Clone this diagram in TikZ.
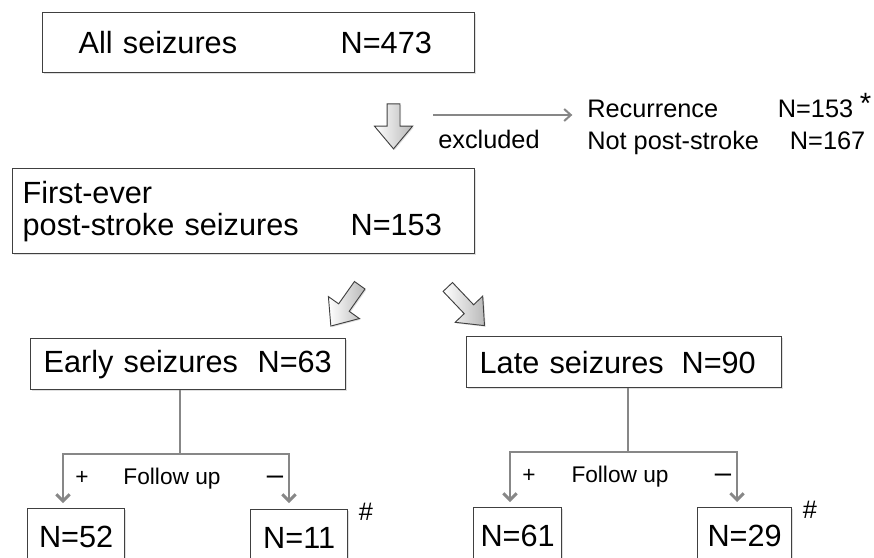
\documentclass[tikz,border=0pt]{standalone}
\usepackage{fontspec}
\setmainfont{Liberation Sans}
\usetikzlibrary{shapes.arrows,shadows,arrows.meta}

\definecolor{framegray}{RGB}{64,64,64}
\definecolor{linkgray}{RGB}{135,135,135}

\tikzset{
  box/.style={draw=framegray, line width=1pt, fill=white, anchor=north west,
    inner xsep=0pt, inner ysep=0pt, align=left,
    drop shadow={shadow xshift=0.9pt, shadow yshift=-0.9pt, opacity=0.25}},
  numbox/.style={box, align=center, font=\fontsize{23}{24}\selectfont},
  bigtext/.style={font=\fontsize{23}{24}\selectfont},
  midtext/.style={font=\fontsize{19}{24}\selectfont},
  fuptext/.style={font=\fontsize{17}{20}\selectfont, anchor=base, inner sep=0pt},
  dashtext/.style={fuptext, font=\fontsize{22}{24}\selectfont},
  blockarrow/.style={single arrow, draw=framegray, line width=0.7pt,
    left color=white, right color=gray!55,
    inner xsep=0pt, inner ysep=4.5pt, single arrow head extend=9.4pt,
    single arrow tip angle=80, minimum height=33.75pt,
    drop shadow={shadow xshift=0.9pt, shadow yshift=-0.9pt, opacity=0.25}},
  exarrow/.style={draw=linkgray, line width=1.5pt,
    -{Straight Barb[length=5pt,width=9pt]}},
  branch/.style={draw=linkgray, line width=2.2pt},
  branchtip/.style={branch, -{Straight Barb[length=5pt,width=10pt]}}
}

\begin{document}
\begin{tikzpicture}[x=0.75pt, y=-0.75pt]
\useasboundingbox (0,0) rectangle (874,557);

  % top boxes
  \node[box, bigtext, minimum width=324pt, minimum height=45pt, text width=324pt]
    (all) at (42,12) {\hspace*{27pt}\makebox[196.5pt][l]{All seizures}N=473};
  \node[blockarrow, rotate=-90] (down) at (393.5,122.5) {};
  \node[box, bigtext, minimum width=346.5pt, minimum height=63.75pt, text width=346.5pt]
    (first) at (12,168) {\hspace*{7.5pt}First-ever\\
      \hspace*{7.5pt}\makebox[246pt][l]{post-stroke seizures}N=153};

  % excluded
  \coordinate (exstart) at (433,115);
  \node[midtext, anchor=base west, inner sep=0pt] (exlabel) at (438,148) {excluded};
  \node[midtext, anchor=north west, inner sep=0pt, align=left] (rec) at (587,100)
    {\makebox[143pt][l]{Recurrence}N=153\hspace{5pt}\raisebox{3pt}[0pt][0pt]{\fontsize{22}{22}\selectfont *}\\
     \makebox[152pt][l]{Not post-stroke}N=167};
  \draw[exarrow, shorten >=11pt] (exstart) -- (exstart -| rec.west);

  % split arrows
  \node[blockarrow, rotate=234.7, minimum height=37.5pt] (toearly) at (347.5,302.5) {};
  \node[blockarrow, rotate=-46.5, minimum height=40pt] (tolate) at (463.5,303.5) {};

  % early / late
  \node[box, bigtext, minimum width=236.25pt, minimum height=38.25pt, text width=236.25pt]
    (early) at (30,338) {\hspace*{9.75pt}\makebox[160.5pt][l]{Early seizures}N=63};
  \node[box, bigtext, minimum width=236.25pt, minimum height=38.25pt, text width=236.25pt]
    (late) at (466,336) {\hspace*{9.75pt}\makebox[151.5pt][l]{Late seizures}N=90};

  % outcome boxes
  \node[numbox, minimum width=72.75pt, minimum height=42pt] (e52) at (27,508) {N=52};
  \node[numbox, minimum width=72.75pt, minimum height=42pt] (e11) at (250,509) {N=11};
  \node[numbox, minimum width=66pt, minimum height=42pt] (l61) at (473,507) {N=61};
  \node[numbox, minimum width=70.5pt, minimum height=42pt] (l29) at (697,507) {N=29};
  \node[midtext, inner sep=0pt] (e11hash) at (366,512) {\#};
  \node[midtext, inner sep=0pt] (l29hash) at (810,510) {\#};

  % follow up, early
  \coordinate (ej) at (180,454);
  \coordinate (eplus) at (63,503);
  \coordinate (eminus) at (289,503);
  \draw[branch] (ej |- early.south) -- (ej);
  \draw[branchtip] (ej) -| (eplus);
  \draw[branchtip] (ej) -| (eminus);
  \node[fuptext] (epl) at (82,484) {+};
  \node[fuptext] (efu) at (172,484) {Follow up};
  \node[dashtext] (emi) at (275,484) {–};

  % follow up, late
  \coordinate (lj) at (628,452);
  \coordinate (lplus) at (510,502);
  \coordinate (lminus) at (737,502);
  \draw[branch] (lj |- late.south) -- (lj);
  \draw[branchtip] (lj) -| (lplus);
  \draw[branchtip] (lj) -| (lminus);
  \node[fuptext] (lpl) at (529,482) {+};
  \node[fuptext] (lfu) at (620,482) {Follow up};
  \node[dashtext] (lmi) at (723,482) {–};

\end{tikzpicture}
\end{document}
